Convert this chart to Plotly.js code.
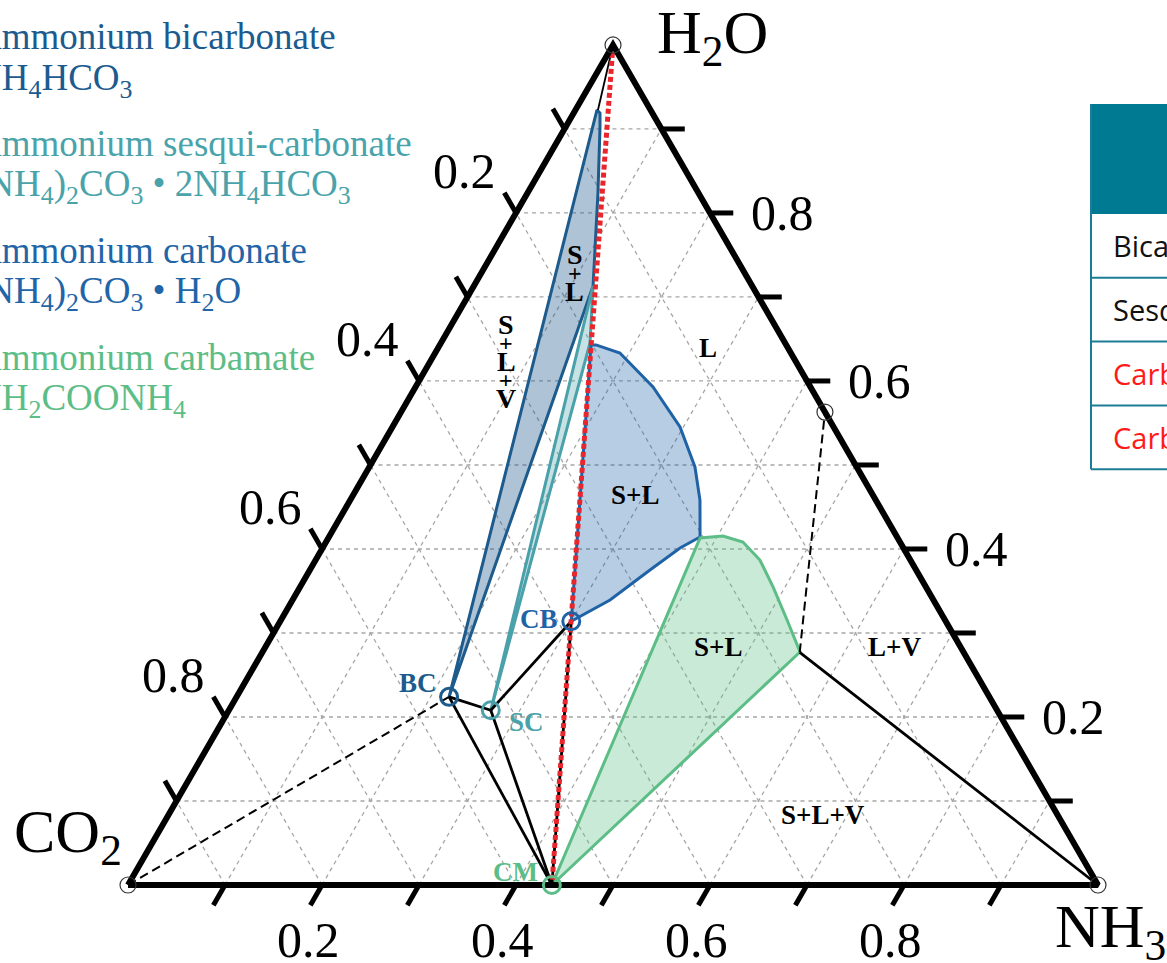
<!DOCTYPE html>
<html><head><meta charset="utf-8">
<script src="https://cdn.plot.ly/plotly-3.0.1.min.js"></script>
<style>html,body{margin:0;padding:0;background:#fff;overflow:hidden}</style>
</head><body><div id="chart" style="width:1167px;height:963px"></div>
<script>
// ---------- DATA (mass fractions; CO2 = 1 - NH3 - H2O) ----------
const vertexNames = ["CO<sub>2</sub>", "NH<sub>3</sub>", "H<sub>2</sub>O"];
const vertexNH3 = [0, 1, 0];
const vertexH2O = [0, 0, 1];

const gridValues = [0.1,0.2,0.3,0.4,0.5,0.6,0.7,0.8,0.9];
const tickValues = [0.1,0.2,0.3,0.4,0.5,0.6,0.7,0.8,0.9];
const tickLabelValues = [0.2,0.4,0.6,0.8];
const tickLabelText = ["0.2","0.4","0.6","0.8"];

const compoundNames = ["BC","SC","CB","CM"];
const compoundNH3 = [0.219, 0.270, 0.300, 0.437];
const compoundH2O = [0.224, 0.208, 0.314, 0.000];

// open circle on the NH3-H2O edge
const edgePointNH3 = [0.437];
const edgePointH2O = [0.563];

// three-phase corner of the carbamate field
const carbCornerNH3 = 0.554, carbCornerH2O = 0.277;

// saturation regions (S+L)
const bicarbNH3 = [0.219, 0.0222, 0.0271, 0.0354, 0.0726, 0.1094, 0.1229, 0.219];
const bicarbH2O = [0.224, 0.9226, 0.919, 0.9024, 0.8238, 0.744, 0.7131, 0.224];

const sesquiNH3 = [0.270, 0.1229, 0.1537, 0.270];
const sesquiH2O = [0.208, 0.7131, 0.6452, 0.208];

const carbonateNH3 = [0.300, 0.1559, 0.1611, 0.1905, 0.2448, 0.2965, 0.3357, 0.3605, 0.3826, 0.3685, 0.3506, 0.3273, 0.300];
const carbonateH2O = [0.314, 0.6429, 0.6429, 0.6333, 0.5929, 0.5452, 0.4976, 0.4583, 0.4143, 0.4012, 0.375, 0.3393, 0.314];

const carbamateNH3 = [0.437, 0.3832, 0.4057, 0.4298, 0.458, 0.4876, 0.5217, 0.5541, 0.437];
const carbamateH2O = [0.000, 0.4131, 0.4155, 0.4083, 0.3869, 0.3548, 0.3155, 0.2774, 0.000];

// bicarbonate tip (end of H2O-BC line)
const bicarbTipNH3 = 0.0232, bicarbTipH2O = 0.9226;

// region labels
const regionLabels = ["L", "S+L", "S+L", "L+V", "S+L+V"];
const regionNH3 = [0.278, 0.291, 0.467, 0.649, 0.675];
const regionH2O = [0.639, 0.464, 0.2833, 0.2833, 0.0833];
const stackedLabels = ["S+L", "S+L+V"];
const stackedNH3 = [0.0858, 0.0564];
const stackedH2O = [0.750, 0.6667];

const legendNames = ["Ammonium bicarbonate", "Ammonium sesqui-carbonate", "Ammonium carbonate", "Ammonium carbamate"];
const legendFormulas = ["NH<sub>4</sub>HCO<sub>3</sub>",
  "(NH<sub>4</sub>)<sub>2</sub>CO<sub>3</sub> \u2022 2NH<sub>4</sub>HCO<sub>3</sub>",
  "(NH<sub>4</sub>)<sub>2</sub>CO<sub>3</sub> \u2022 H<sub>2</sub>O",
  "NH<sub>2</sub>COONH<sub>4</sub>"];
const legendColors = ["#1c5b8f", "#4aa3aa", "#1f65a8", "#5cbd86"];

const tableRows = ["Bicarbonate", "Sesquicarbonate", "Carbonate", "Carbamate"];
const tableRowColors = ["#111111", "#111111", "#ff1a1a", "#ff1a1a"];

// ---------- helpers ----------
const S3 = Math.sqrt(3) / 2;
const PX = 970; // pixels per unit
const X = (n, w) => n + w / 2;
const Y = (n, w) => w * S3;
const xs = (N, W) => N.map((n, i) => n === null ? null : X(n, W[i]));
const ys = (N, W) => N.map((n, i) => n === null ? null : Y(n, W[i]));
const serif = "Liberation Serif, Times New Roman, serif";

const traces = [];

// grid
(function () {
  const gx = [], gy = [];
  gridValues.forEach(v => {
    gx.push(X(0, v), X(1 - v, v), null); gy.push(Y(0, v), Y(1 - v, v), null);
    gx.push(X(v, 0), X(v, 1 - v), null); gy.push(Y(v, 0), Y(v, 1 - v), null);
    gx.push(X(1 - v, 0), X(0, 1 - v), null); gy.push(Y(1 - v, 0), Y(0, 1 - v), null);
  });
  traces.push({x: gx, y: gy, mode: "lines", line: {color: "#a6a6a6", width: 1.3, dash: "4px,4px"}, hoverinfo: "skip"});
})();

function region(N, W, line, fill) {
  traces.push({x: xs(N, W), y: ys(N, W), mode: "lines", fill: "toself", fillcolor: fill,
    line: {color: line, width: 3}, hoverinfo: "skip"});
}
region(bicarbNH3, bicarbH2O, "#1c5b8c", "rgba(31,90,140,0.36)");
region(sesquiNH3, sesquiH2O, "#4aa1a9", "rgba(70,160,168,0.30)");
region(carbonateNH3, carbonateH2O, "#1f63a6", "rgba(31,100,170,0.32)");
region(carbamateNH3, carbamateH2O, "#5cbd86", "rgba(90,190,135,0.33)");

// tie lines
(function () {
  const [bcN, scN, cbN, cmN] = compoundNH3, [bcW, scW, cbW, cmW] = compoundH2O;
  const segs = [
    [bcN, bcW, scN, scW], [scN, scW, cbN, cbW], [bcN, bcW, cmN, cmW], [scN, scW, cmN, cmW],
    [cbN, cbW, cmN, cmW], [carbCornerNH3, carbCornerH2O, vertexNH3[1], vertexH2O[1]]
  ];
  const tx = [], ty = [];
  segs.forEach(s => { tx.push(X(s[0], s[1]), X(s[2], s[3]), null); ty.push(Y(s[0], s[1]), Y(s[2], s[3]), null); });
  traces.push({x: tx, y: ty, mode: "lines", line: {color: "#000", width: 2.8}, hoverinfo: "skip"});
  traces.push({x: [X(vertexNH3[2], vertexH2O[2]), X(bicarbTipNH3, bicarbTipH2O)],
    y: [Y(vertexNH3[2], vertexH2O[2]), Y(bicarbTipNH3, bicarbTipH2O)], mode: "lines",
    line: {color: "#000", width: 1.8}, hoverinfo: "skip"});
  const dx = [X(vertexNH3[0], vertexH2O[0]), X(bcN, bcW), null, X(carbCornerNH3, carbCornerH2O), X(edgePointNH3[0], edgePointH2O[0])];
  const dy = [Y(vertexNH3[0], vertexH2O[0]), Y(bcN, bcW), null, Y(carbCornerNH3, carbCornerH2O), Y(edgePointNH3[0], edgePointH2O[0])];
  traces.push({x: dx, y: dy, mode: "lines", line: {color: "#000", width: 2, dash: "9px,5px"}, hoverinfo: "skip"});
  traces.push({x: [X(vertexNH3[2], vertexH2O[2]), X(cmN, cmW)], y: [Y(vertexNH3[2], vertexH2O[2]), Y(cmN, cmW)],
    mode: "lines", line: {color: "#e8262b", width: 5, dash: "5px,3px"}, hoverinfo: "skip"});
})();

// triangle frame
traces.push({x: xs([0, 1, 0, 0], [0, 0, 1, 0]), y: ys([0, 1, 0, 0], [0, 0, 1, 0]), mode: "lines",
  line: {color: "#000", width: 6}, hoverinfo: "skip"});

// ticks
(function () {
  const L = 0.024, tx = [], ty = [];
  tickValues.forEach(v => {
    let x0 = X(v, 0), y0 = Y(v, 0);
    tx.push(x0, x0 - 0.5 * L, null); ty.push(y0, y0 - S3 * L, null);
    x0 = X(1 - v, v); y0 = Y(1 - v, v);
    tx.push(x0, x0 + L, null); ty.push(y0, y0, null);
    x0 = X(0, 1 - v); y0 = Y(0, 1 - v);
    tx.push(x0, x0 - 0.5 * L, null); ty.push(y0, y0 + S3 * L, null);
  });
  traces.push({x: tx, y: ty, mode: "lines", line: {color: "#000", width: 5}, hoverinfo: "skip"});
})();

// vertex circles
traces.push({x: xs(vertexNH3.concat(edgePointNH3), vertexH2O.concat(edgePointH2O)),
  y: ys(vertexNH3.concat(edgePointNH3), vertexH2O.concat(edgePointH2O)), mode: "markers",
  marker: {symbol: "circle-open", size: 16, color: "#333", line: {width: 1.2}}, hoverinfo: "skip"});

// compounds
const compColors = ["#1c5b8c", "#4aa1a9", "#1f63a6", "#5cbd86"];
traces.push({x: xs(compoundNH3, compoundH2O), y: ys(compoundNH3, compoundH2O), mode: "markers",
  marker: {symbol: "circle-open", size: 17, color: compColors, line: {width: 3, color: compColors}}, hoverinfo: "skip"});

const annotations = [];
// tick labels
tickLabelValues.forEach((v, i) => {
  const spots = [
    [X(v, 0) - 14 / PX, Y(v, 0) - 55 / PX],
    [X(1 - v, v) + 72 / PX, Y(1 - v, v)],
    [X(0, 1 - v) - 52 / PX, Y(0, 1 - v) + 42 / PX]
  ];
  spots.forEach(p => annotations.push({x: p[0], y: p[1], xref: "x", yref: "y", text: tickLabelText[i],
    showarrow: false, font: {family: serif, size: 50, color: "#000"}}));
});
// compound labels
const compOffsets = [[-31, 14], [36, -12], [-32, 2], [-36, 13]];
compoundNames.forEach((nm, i) => {
  annotations.push({x: X(compoundNH3[i], compoundH2O[i]) + compOffsets[i][0] / PX,
    y: Y(compoundNH3[i], compoundH2O[i]) + compOffsets[i][1] / PX, xref: "x", yref: "y",
    text: "<b>" + nm + "</b>", showarrow: false, font: {family: serif, size: 27, color: compColors[i]}});
});
// region labels
regionLabels.forEach((t, i) => {
  annotations.push({x: X(regionNH3[i], regionH2O[i]), y: Y(regionNH3[i], regionH2O[i]), xref: "x", yref: "y",
    text: "<b>" + t + "</b>", showarrow: false, font: {family: serif, size: 27, color: "#000"}});
});
stackedLabels.forEach((t, i) => {
  const chars = t.split("");
  const x0 = X(stackedNH3[i], stackedH2O[i]), y0 = Y(stackedNH3[i], stackedH2O[i]);
  chars.forEach((c, k) => {
    annotations.push({x: x0, y: y0 - k * 18.5 / PX, xref: "x", yref: "y", text: "<b>" + c + "</b>",
      showarrow: false, font: {family: serif, size: c === "+" ? 24 : 28, color: "#000"}});
  });
});
// vertex labels
annotations.push({x: X(0, 1) + 99 / PX, y: Y(0, 1) + 8 / PX, xref: "x", yref: "y", text: vertexNames[2],
  showarrow: false, font: {family: serif, size: 62, color: "#000"}});
annotations.push({x: X(0, 0) - 60 / PX, y: Y(0, 0) + 50 / PX, xref: "x", yref: "y", text: vertexNames[0],
  showarrow: false, font: {family: serif, size: 62, color: "#000"}});
annotations.push({x: X(1, 0) - 45 / PX, y: Y(1, 0) - 45 / PX, xref: "x", yref: "y", xanchor: "left", text: vertexNames[1],
  showarrow: false, font: {family: serif, size: 62, color: "#000"}});

// legend text (left, partly cut)
const W = 1167, H = 963;
legendNames.forEach((nm, i) => {
  const yName = 37 + 106.7 * i, yForm = 80 + 106.7 * i;
  annotations.push({x: -27 / W, y: 1 - yName / H, xref: "paper", yref: "paper", xanchor: "left", yanchor: "middle",
    text: nm, showarrow: false, font: {family: serif, size: 37, color: legendColors[i]}});
  annotations.push({x: -27 / W, y: 1 - yForm / H, xref: "paper", yref: "paper", xanchor: "left", yanchor: "middle",
    text: legendFormulas[i], showarrow: false, font: {family: serif, size: 37, color: legendColors[i]}});
});

// table (right, partly cut)
const shapes = [];
const tLeft = 1091, tTop = 104, hdrH = 110, rowH = 63.8, tCol = "#1a7d95";
shapes.push({type: "rect", xref: "paper", yref: "paper", x0: tLeft / W, x1: 1.2, y0: 1 - (tTop + hdrH) / H, y1: 1 - tTop / H,
  fillcolor: "#007a93", line: {width: 0}});
tableRows.forEach((r, i) => {
  const yb = tTop + hdrH + rowH * (i + 1);
  shapes.push({type: "line", xref: "paper", yref: "paper", x0: tLeft / W, x1: 1.2, y0: 1 - yb / H, y1: 1 - yb / H,
    line: {color: tCol, width: 2}});
  annotations.push({x: 1111 / W, y: 1 - (yb - rowH / 2) / H, xref: "paper", yref: "paper", xanchor: "left", yanchor: "middle",
    text: r, showarrow: false, font: {family: "Open Sans, Noto Sans, sans-serif", size: 29, color: tableRowColors[i]}});
});
shapes.push({type: "line", xref: "paper", yref: "paper", x0: tLeft / W, x1: tLeft / W,
  y0: 1 - (tTop + hdrH + rowH * tableRows.length) / H, y1: 1 - tTop / H, line: {color: tCol, width: 2}});

const layout = {
  width: W, height: H, autosize: false, showlegend: false,
  margin: {l: 0, r: 0, t: 0, b: 0, pad: 0},
  paper_bgcolor: "#fff", plot_bgcolor: "#fff",
  xaxis: {range: [-128 / PX, 1039 / PX], visible: false, fixedrange: true},
  yaxis: {range: [-78 / PX, 885 / PX], visible: false, fixedrange: true},
  annotations: annotations, shapes: shapes
};
Plotly.newPlot("chart", traces, layout, {displayModeBar: false, staticPlot: true});
</script></body></html>
